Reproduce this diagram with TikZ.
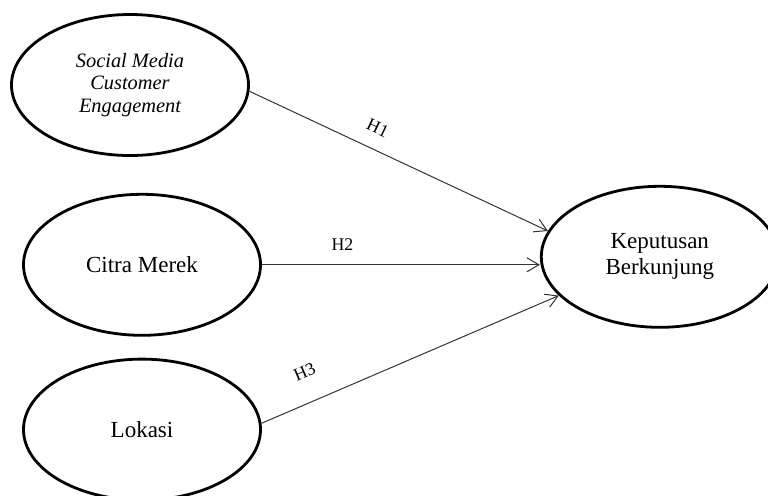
\documentclass[tikz,border=0pt]{standalone}
\usepackage{fontspec}
\setmainfont{Liberation Serif}
\usepackage{tikz}
\usetikzlibrary{arrows.meta,positioning,shapes.geometric}

\begin{document}
\begin{tikzpicture}[
        x=0.5pt, y=-0.5pt,
        construct/.style={
            draw,
            ellipse,
            line width=1.4pt,
            inner sep=0pt,
            align=center,
            minimum width=118.5pt,
            minimum height=70.5pt,
            font=\fontsize{11.5}{13}\selectfont
        },
        path/.style={-{Straight Barb[length=6pt,width=7pt]}, line width=0.5pt, draw=black!80},
        hyp/.style={sloped, font=\fontsize{8.9}{10}\selectfont}
    ]
        \useasboundingbox (0,0) rectangle (768,495);

        \node[construct, font=\fontsize{10.2}{11.4}\selectfont\itshape] (sme) at (130,85) {Social Media\\Customer\\Engagement};
        \node[construct, below=18pt of sme, xshift=6pt] (citra) {Citra Merek};
        \node[construct, below=10.5pt of citra] (lokasi) {Lokasi};
        \node[construct, right=139pt of citra, yshift=4pt] (keputusan) {Keputusan\\Berkunjung};

        \draw[path] (sme.-3) -- node[hyp, above=4pt, pos=0.40] {H1} (keputusan.167);
        \draw[path] (citra.east) -- node[hyp, above=3.5pt, pos=0.29] {H2} (keputusan.west |- citra.east);
        \draw[path] (lokasi.3) -- node[hyp, above=8.5pt, pos=0.185] {H3} (keputusan.201);
    \end{tikzpicture}
\end{document}
